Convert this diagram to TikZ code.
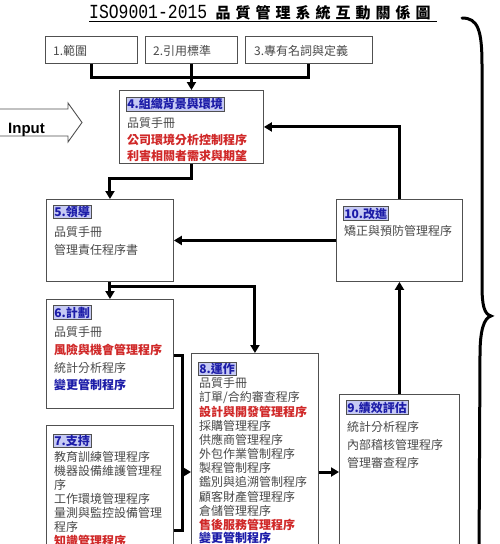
\documentclass[tikz,border=0pt]{standalone}
\usepackage{fontspec}
\setmainfont{Liberation Serif}
\newfontfamily\cjk{Noto Sans CJK TC}
\newfontfamily\monof{Liberation Mono}
\newfontfamily\arialf{Liberation Sans}
\usetikzlibrary{arrows.meta}
\definecolor{txtgray}{HTML}{4A4A4A}
\definecolor{txtred}{HTML}{D02828}
\definecolor{txtblue}{HTML}{1C1CA8}
\definecolor{hlfill}{HTML}{C6CAF4}
\definecolor{boxline}{HTML}{505050}
\newcommand{\tcc}[1]{\makebox[20pt]{#1}}
\tikzset{
  box/.style={draw=boxline, line width=0.9pt, fill=white, inner sep=0pt, anchor=north west},
  tx/.style={anchor=base west, inner sep=0pt, text=txtgray, font=\cjk\fontsize{12}{12}\selectfont},
  rd/.style={anchor=base west, inner sep=0pt, text=txtred, font=\cjk\bfseries\fontsize{12}{12}\selectfont},
  bl/.style={anchor=base west, inner sep=0pt, text=txtblue, font=\cjk\bfseries\fontsize{12}{12}\selectfont},
  hd/.style={anchor=base west, inner sep=1pt, text=txtblue, fill=hlfill, draw=boxline, line width=0.5pt, font=\cjk\bfseries\fontsize{12}{12}\selectfont},
  conn/.style={line width=3pt, draw=black},
  arr/.style={conn, -{Triangle[length=8pt,width=9pt]}}
}
\begin{document}
\begin{tikzpicture}[x=1pt,y=-1pt]
\useasboundingbox (0,0) rectangle (500,544);
\fill[white] (0,0) rectangle (500,544);

% title
\node[anchor=base west, inner sep=0pt] (ttl1) at (89,18) {\monof\fontsize{20}{20}\selectfont\scalebox{0.82}[1]{ISO9001-2015}};
\node[anchor=base west, inner sep=0pt] (ttl2) at (213,18.5) {\cjk\bfseries\fontsize{15}{15}\selectfont\tcc{品}\tcc{質}\tcc{管}\tcc{理}\tcc{系}\tcc{統}\tcc{互}\tcc{動}\tcc{關}\tcc{係}\tcc{圖}};
\draw[line width=1.2pt] (89,21.5) -- (437,21.5);

% boxes
\node[box, minimum width=92pt, minimum height=27pt] (b1) at (45,36) {};
\node[box, minimum width=92pt, minimum height=27pt] (b2) at (145,36) {};
\node[box, minimum width=127pt, minimum height=27pt] (b3) at (245,36) {};
\node[box, minimum width=144pt, minimum height=73pt] (b4) at (119,90) {};
\node[box, minimum width=127pt, minimum height=82pt] (b5) at (46,199) {};
\node[box, minimum width=127pt, minimum height=109pt] (b6) at (46,299) {};
\node[box, minimum width=127pt, minimum height=140pt] (b7) at (46,425) {};
\node[box, minimum width=127pt, minimum height=210pt] (b8) at (191,353) {};
\node[box, minimum width=120pt, minimum height=170pt] (b9) at (339,394) {};
\node[box, minimum width=126pt, minimum height=82pt] (b10) at (336,199) {};

% texts
\node[tx] (t1) at (53,55) {1.範圍};
\node[tx] (t2) at (153,55) {2.引用標準};
\node[tx] (t3) at (254,55) {3.專有名詞與定義};

\node[hd] (h4) at (126,108.5) {4.組織背景與環境};
\node[tx] (t4a) at (127,127.5) {品質手冊};
\node[rd] (t4b) at (127,144.5) {公司環境分析控制程序};
\node[rd] (t4c) at (127,160) {利害相關者需求與期望};

\node[hd] (h5) at (53,216.5) {5.領導};
\node[tx] (t5a) at (54,236.5) {品質手冊};
\node[tx] (t5b) at (54,254.5) {管理責任程序書};

\node[hd] (h6) at (53,317) {6.計劃};
\node[tx] (t6a) at (54,336.5) {品質手冊};
\node[rd] (t6b) at (54,354.5) {風險與機會管理程序};
\node[tx] (t6c) at (54,372.5) {統計分析程序};
\node[bl] (t6d) at (54,389.5) {變更管制程序};

\node[hd] (h7) at (53,445.5) {7.支持};
\node[tx] (t7a) at (54,461) {教育訓練管理程序};
\node[tx] (t7b) at (54,475.5) {機器設備維護管理程};
\node[tx] (t7c) at (54,489.5) {序};
\node[tx] (t7d) at (54,503) {工作環境管理程序};
\node[tx] (t7e) at (54,517) {量測與監控設備管理};
\node[tx] (t7f) at (54,531) {程序};
\node[rd] (t7g) at (54,545) {知識管理程序};

\node[hd] (h8) at (198,373.5) {8.運作};
\node[tx] (t8a) at (199,387) {品質手冊};
\node[tx] (t8b) at (199,401.5) {訂單/合約審查程序};
\node[rd] (t8c) at (199,416) {設計與開發管理程序};
\node[tx] (t8d) at (199,430.5) {採購管理程序};
\node[tx] (t8e) at (199,444.5) {供應商管理程序};
\node[tx] (t8f) at (199,458.5) {外包作業管制程序};
\node[tx] (t8g) at (199,472.5) {製程管制程序};
\node[tx] (t8h) at (199,486.5) {鑑別與追溯管制程序};
\node[tx] (t8i) at (199,501) {顧客財產管理程序};
\node[tx] (t8j) at (199,515) {倉儲管理程序};
\node[rd] (t8k) at (199,529) {售後服務管理程序};
\node[bl] (t8l) at (199,542.5) {變更管制程序};

\node[hd] (h9) at (346,412) {9.績效評估};
\node[tx] (t9a) at (347,431) {統計分析程序};
\node[tx] (t9b) at (347,449) {內部稽核管理程序};
\node[tx] (t9c) at (347,467) {管理審查程序};

\node[hd] (h10) at (343,218) {10.改進};
\node[tx] (t10a) at (344,235.5) {矯正與預防管理程序};

% input arrow
\draw[draw=boxline, line width=0.9pt, fill=white] (-1,109) -- (68,109) -- (68,103) -- (82,122.5) -- (68,142) -- (68,136) -- (-1,136) -- cycle;
\node[anchor=base west, inner sep=0pt, font=\arialf\bfseries\fontsize{15}{15}\selectfont] (inp) at (8,133) {Input};

% connectors
\draw[conn] (b1.south) -- ++(0,14) -| (b3.south);
\draw[arr] (b2.south) -- (b4.north);
\draw[arr] (b4.south) -- ++(0,15) -| (b5.north);
\draw[arr] (b10.north) |- (b4.east);
\draw[arr] (b10.west) -- (b5.east);
\draw[arr] (b9.north) -- (b10.south);
\draw[arr] (b5.south) -- (b6.north);
\path (b5.south) ++(0,5) coordinate (j56);
\draw[arr] (j56) -| (b8.north);
\coordinate (k1) at (182,355);
\coordinate (k2) at (182,530);
\coordinate (k3) at (182,472);
\coordinate (k4) at (318,472);
\draw[conn] (b6.east |- k1) -- (k1) -- (k2) -- (b7.east |- k2);
\draw[arr] (k3) -- (b8.west |- k3);
\draw[arr] (b8.east |- k4) -- (b9.west |- k4);

% brace
\draw[line width=3pt, line cap=round] (462,18) .. controls (478,18) and (482,30) .. (482,65) -- (482,285) .. controls (482,305) and (484,314) .. (491,316) .. controls (484,318) and (480,330) .. (480,355) -- (479,560);
\end{tikzpicture}
\end{document}
